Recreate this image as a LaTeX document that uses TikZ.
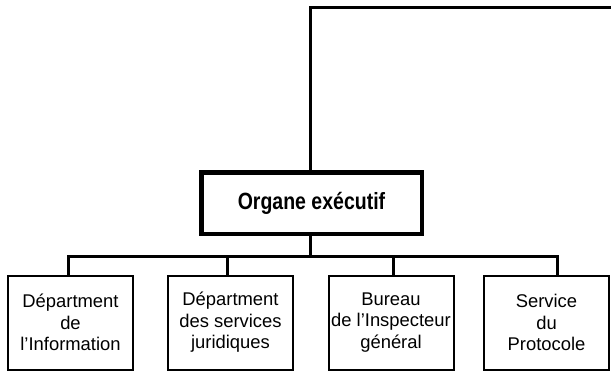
\documentclass[tikz,border=0pt]{standalone}
\usepackage{fontspec}
\setmainfont{Liberation Sans}
\newfontfamily\titlefont{Liberation Sans}[FakeStretch=0.83]
\begin{document}
\begin{tikzpicture}[x=1pt,y=-1pt,
  conn/.style={line width=3pt},
  mainbox/.style={draw,line width=4.5pt,minimum width=220.5pt,minimum height=61.5pt,inner sep=0pt,
    font=\titlefont\bfseries\fontsize{23.5}{28}\selectfont},
  unitbox/.style={draw,line width=2pt,minimum width=125pt,minimum height=94pt,inner sep=0pt,
    align=center,font=\fontsize{18.4}{21.5}\selectfont}]
\useasboundingbox (0,0) rectangle (611,372);
\node[mainbox] (main) at (311.5,203) {Organe exécutif};
\node[unitbox] (c1) at (70.5,322.5) {Départment\\de\\l’Information};
\node[unitbox] (c2) at (230.5,322.5) {Départment\\des services\\juridiques};
\node[unitbox] (c3) at (391,322.5) {Bureau\\de l’Inspecteur\\général};
\node[unitbox] (c4) at (546.5,322.5) {Service\\du\\Protocole};
\coordinate (bus) at (310,256);
\coordinate (tr) at (612,7);
\coordinate (d1) at (68,256);
\coordinate (d2) at (227,256);
\coordinate (d3) at (393,256);
\coordinate (d4) at (557,256);
\draw[conn] (main.north -| bus) |- (tr);
\draw[conn] (main.south -| bus) -- (bus);
\draw[conn,line cap=rect] (d1) -- (d4);
\draw[conn] (d1) -- (d1 |- c1.north);
\draw[conn] (d2) -- (d2 |- c2.north);
\draw[conn] (d3) -- (d3 |- c3.north);
\draw[conn] (d4) -- (d4 |- c4.north);
\end{tikzpicture}
\end{document}
